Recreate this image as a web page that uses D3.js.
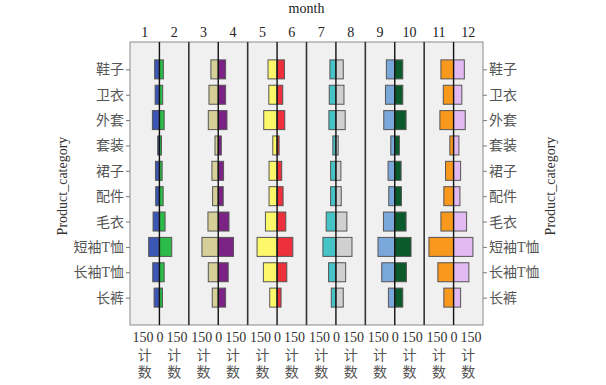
<!DOCTYPE html>
<html>
<head>
<meta charset="utf-8">
<script src="https://cdn.jsdelivr.net/npm/d3@7"></script>
<style>
  body { margin: 0; background: #fff; }
  text { font-family: "Liberation Serif", "Noto Sans CJK SC", serif; }
</style>
</head>
<body>
<div class="chart"></div>
<script>
// product categories, top to bottom
var categories = ["鞋子", "卫衣", "外套", "套装", "裙子", "配件", "毛衣", "短袖T恤", "长袖T恤", "长裤"];
var months = [1, 2, 3, 4, 5, 6, 7, 8, 9, 10, 11, 12];
var tickValues = [0, 150];

// counts per month, same order as categories
var m1  = [42, 38, 62, 15, 35, 33, 56, 95, 59, 47];
var m2  = [35, 29, 42, 18, 24, 33, 50, 109, 42, 27];
var m3  = [65, 82, 88, 29, 56, 50, 91, 144, 88, 53];
var m4  = [65, 65, 77, 27, 47, 44, 95, 135, 88, 65];
var m5  = [80, 73, 118, 38, 71, 71, 103, 177, 121, 65];
var m6  = [65, 50, 68, 18, 41, 53, 77, 139, 86, 35];
var m7  = [53, 59, 62, 27, 47, 47, 86, 115, 65, 41];
var m8  = [65, 71, 82, 20, 44, 47, 97, 142, 86, 65];
var m9  = [74, 82, 97, 35, 59, 53, 100, 148, 115, 56];
var m10 = [71, 71, 100, 41, 56, 59, 100, 144, 103, 71];
var m11 = [112, 91, 121, 33, 71, 86, 112, 218, 139, 86];
var m12 = [95, 73, 103, 47, 62, 56, 115, 171, 135, 62];
var counts = [m1, m2, m3, m4, m5, m6, m7, m8, m9, m10, m11, m12];

var colors = ["#3b56b5", "#2cba48", "#d6cf98", "#7b2385", "#fdf76a", "#ee2f3c",
              "#45c3c6", "#d0d0d0", "#7aa8da", "#0a5a2b", "#f8981d", "#e2b9f0"];

var W = 606, H = 385;
var plot = {left: 130, right: 483, top: 42, bottom: 325};
var nPanels = 6;
var pw = (plot.right - plot.left) / nPanels;

var svg = d3.select(".chart").append("svg")
    .attr("width", W)
    .attr("height", H);

var y = d3.scalePoint()
    .domain(categories)
    .range([plot.top, plot.bottom])
    .padding(1.08);

var barH = 19;

// background
svg.append("rect")
    .attr("x", plot.left).attr("y", plot.top)
    .attr("width", plot.right - plot.left).attr("height", plot.bottom - plot.top)
    .attr("fill", "#f0f0f0")
    .attr("stroke", "#8a8a8a")
    .attr("stroke-width", 1);

// one scale per month, odd months go left, even months go right
var xs = months.map(function(m, i) {
  var p = Math.floor(i / 2);
  var cx = plot.left + p * pw + pw / 2;
  var side = i % 2 == 0 ? -1 : 1;
  return d3.scaleLinear().domain([0, 260]).range([cx, cx + side * pw / 2]);
});

// panel separators
for (var p = 1; p < nPanels; p++) {
  svg.append("line")
      .attr("x1", plot.left + p * pw).attr("x2", plot.left + p * pw)
      .attr("y1", plot.top).attr("y2", plot.bottom)
      .attr("stroke", "#333").attr("stroke-width", 1.6);
}

// bars
months.forEach(function(m, i) {
  var x = xs[i];
  svg.append("g").selectAll("rect")
    .data(counts[i])
    .enter().append("rect")
      .attr("x", function(d) { return Math.min(x(0), x(d)); })
      .attr("y", function(d, j) { return y(categories[j]) - barH / 2; })
      .attr("width", function(d) { return Math.abs(x(d) - x(0)); })
      .attr("height", barH)
      .attr("fill", colors[i])
      .attr("stroke", "#555")
      .attr("stroke-width", 1);
});

// centre lines
for (var p = 0; p < nPanels; p++) {
  var cx = xs[p * 2](0);
  svg.append("line")
      .attr("x1", cx).attr("x2", cx)
      .attr("y1", plot.top).attr("y2", plot.bottom)
      .attr("stroke", "#111").attr("stroke-width", 1.4);
}

// y axes, both sides
var yLeft = svg.append("g")
    .attr("transform", "translate(" + plot.left + ",0)")
    .call(d3.axisLeft(y).tickSize(4).tickPadding(2));
var yRight = svg.append("g")
    .attr("transform", "translate(" + plot.right + ",0)")
    .call(d3.axisRight(y).tickSize(4).tickPadding(2));
[yLeft, yRight].forEach(function(g) {
  g.select(".domain").remove();
  g.selectAll("line").attr("stroke", "#777");
  g.selectAll("text")
      .style("font-size", "14px")
      .attr("fill", "#555");
});

// bottom axes, one per month
months.forEach(function(m, i) {
  var vals = i % 2 == 0 ? tickValues : tickValues.slice(1);
  var g = svg.append("g")
      .attr("transform", "translate(0," + plot.bottom + ")")
      .call(d3.axisBottom(xs[i]).tickValues(vals).tickSize(0).tickPadding(7));
  g.select(".domain").remove();
  g.selectAll("text")
      .style("font-size", "14px")
      .attr("fill", "#333");

  // vertical "计数" title
  var hx = (xs[i](0) + xs[i](260)) / 2;
  ["计", "数"].forEach(function(c, k) {
    svg.append("text")
        .attr("x", hx)
        .attr("y", 360 + k * 17)
        .attr("text-anchor", "middle")
        .style("font-size", "14px")
        .attr("fill", "#555")
        .text(c);
  });

  // month number on top
  svg.append("text")
      .attr("x", hx)
      .attr("y", 37)
      .attr("text-anchor", "middle")
      .style("font-size", "14px")
      .attr("fill", "#222")
      .text(m);
});

svg.append("text")
    .attr("x", (plot.left + plot.right) / 2)
    .attr("y", 13)
    .attr("text-anchor", "middle")
    .style("font-size", "14px")
    .attr("fill", "#222")
    .text("month");

[62, 550].forEach(function(px) {
  svg.append("text")
      .attr("transform", "translate(" + px + "," + 186 + ") rotate(-90)")
      .attr("text-anchor", "middle")
      .attr("dy", "0.35em")
      .style("font-size", "14px")
      .attr("fill", "#333")
      .text("Product_category");
});
</script>
</body>
</html>
